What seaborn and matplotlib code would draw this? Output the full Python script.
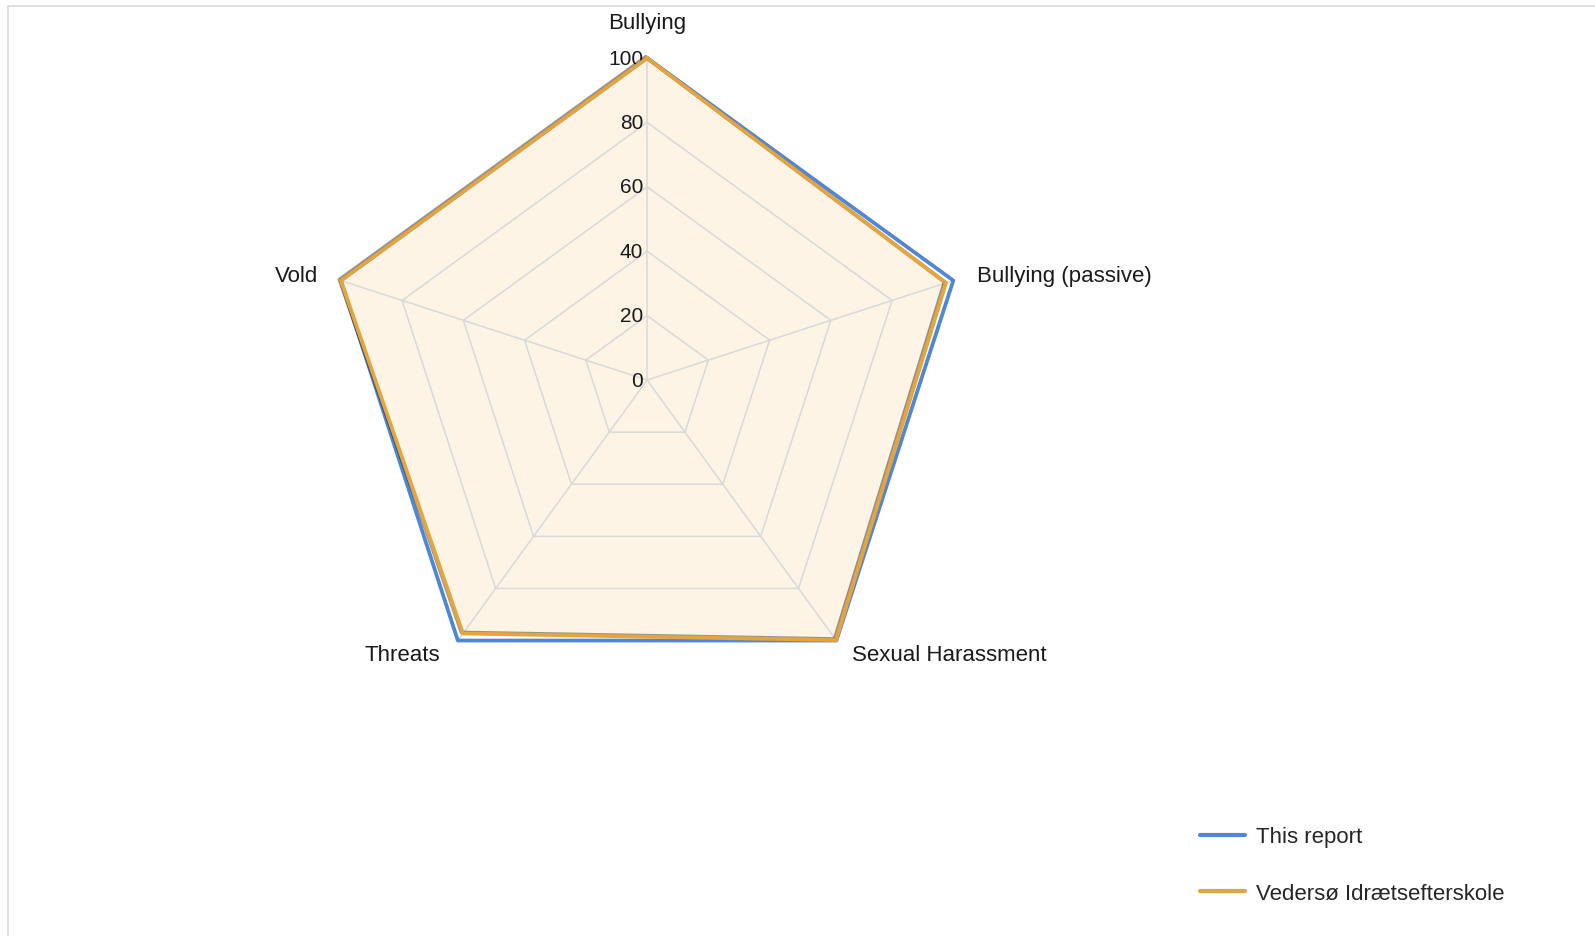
import numpy as np
import pandas as pd
import matplotlib
matplotlib.use("Agg")
import matplotlib.pyplot as plt
import matplotlib.patheffects as pe
from matplotlib.lines import Line2D
import seaborn as sns

categories = ["Bullying", "Bullying (passive)", "Sexual Harassment", "Threats", "Vold"]
this_report = [100, 100, 100, 100, 100]
vedersoe = [100, 97.6, 99.8, 97.3, 100]
series_names = ["This report", "Vedersø Idrætsefterskole"]
r_ticks = [0, 20, 40, 60, 80, 100]

sns.set_style("white")
plt.rcParams['font.family'] = ['Liberation Sans', 'DejaVu Sans']

blue = "#4F86D6"
orange = "#E6A53C"
grid_col = "#D9D9D9"

n = len(categories)
theta = np.linspace(0, 2 * np.pi, n, endpoint=False)
theta_closed = np.append(theta, 2 * np.pi)

rows = []
for name, vals in zip(series_names, [this_report, vedersoe]):
    for i, t in enumerate(theta_closed):
        rows.append({"series": name, "theta": t, "value": vals[i % n], "order": i})
df = pd.DataFrame(rows)

fig = plt.figure(figsize=(15.95, 9.37), dpi=100)
ax = fig.add_axes([0.2038, 0.2497, 0.4038, 0.6873], projection="polar")
ax.set_theta_zero_location("N")
ax.set_theta_direction(-1)
ax.set_ylim(0, 100)
ax.grid(False)
ax.spines["polar"].set_visible(False)
ax.set_xticks([])
ax.set_yticks([])
ax.patch.set_alpha(0)

# pentagon grid and spokes
for r in r_ticks[1:]:
    ax.plot(theta_closed, [r] * (n + 1), color=grid_col, lw=1.1, zorder=1, clip_on=False)
for t in theta:
    ax.plot([t, t], [0, 100], color=grid_col, lw=1.1, zorder=1)

# fill of the school series
ax.fill(theta_closed, [vedersoe[i % n] for i in range(n + 1)], color="#FBE8C8", alpha=0.45, zorder=0.5)

sns.lineplot(data=df[df.series == series_names[0]], x="theta", y="value", sort=False,
             color=blue, lw=2.7, ax=ax, legend=False, zorder=3, clip_on=False)
sns.lineplot(data=df[df.series == series_names[1]], x="theta", y="value", sort=False,
             color=orange, lw=2.7, ax=ax, legend=False, zorder=4, clip_on=False,
             path_effects=[pe.SimpleLineShadow(offset=(-1.0, 0.7), alpha=0.4), pe.Normal()])
ax.set_xlabel("")
ax.set_ylabel("")

# radial tick labels along the top spoke
for r in r_ticks:
    ax.annotate(str(r), xy=(0, r), xytext=(-4, 0), textcoords="offset pixels",
                ha="right", va="center", fontsize=15, color="#1a1a1a")

# category labels
offsets = [(0, 36, "center", "center"), (24, 5, "left", "center"),
           (16, -14, "left", "center"), (-18, -14, "right", "center"),
           (-23, 5, "right", "center")]
for t, lab, (dx, dy, ha, va) in zip(theta, categories, offsets):
    ax.annotate(lab, xy=(t, 100), xytext=(dx, dy), textcoords="offset pixels",
                ha=ha, va=va, fontsize=16, color="#1a1a1a")

handles = [Line2D([], [], color=blue, lw=3), Line2D([], [], color=orange, lw=3)]
fig.legend(handles, series_names, loc="center left", bbox_to_anchor=(0.7524, 0.0755),
           frameon=False, fontsize=16, handlelength=2.0, handletextpad=0.5,
           labelspacing=1.6, borderpad=0, borderaxespad=0)

# chart border (top and left visible)
fig.add_artist(Line2D([8 / 1595, 1.0], [1 - 7 / 937, 1 - 7 / 937], transform=fig.transFigure,
                      color=grid_col, lw=1.2))
fig.add_artist(Line2D([8 / 1595, 8 / 1595], [0.0, 1 - 7 / 937], transform=fig.transFigure,
                      color=grid_col, lw=1.2))

fig.savefig("out.png", dpi=100, facecolor="white")
